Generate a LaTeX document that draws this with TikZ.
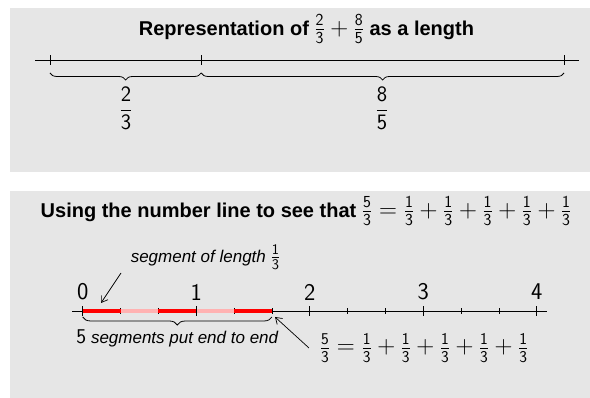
\documentclass[tikz,border=0pt]{standalone}
\usepackage{fontspec}
\setmainfont{Liberation Sans}
\usetikzlibrary{arrows.meta,decorations.pathreplacing}
\definecolor{panelgray}{RGB}{230,230,230}
\definecolor{segred}{RGB}{255,0,0}
\definecolor{segpink}{RGB}{255,178,178}
\newcommand{\numfrac}[2]{\frac{\mathsf{#1}}{\mathsf{#2}}}
\newcommand{\mathat}[2]{{\fontsize{#1}{#1}\selectfont$#2$}}
\newcommand{\bigtick}[2]{\draw[line width=0.8pt] (#1,#2-5) -- (#1,#2+5);}
\newcommand{\smalltick}[2]{\draw[line width=0.6pt] (#1,#2-3) -- (#1,#2+3);}
\newcommand{\segpiece}[3]{\draw[#3,line width=4.5pt] (#1,87) -- (#2,87);}
\tikzset{
  titletext/.style={font=\bfseries\fontsize{20}{24}\selectfont},
  notetext/.style={font=\fontsize{17}{20}\selectfont},
  numtext/.style={font=\fontsize{24}{28}\selectfont},
  bracebelow/.style={decorate,decoration={brace,mirror,amplitude=#1},line width=0.8pt},
  pointer/.style={-{Straight Barb[length=6pt,width=8pt]},line width=0.7pt}
}

\begin{document}
\begin{tikzpicture}[x=1pt,y=1pt]
\useasboundingbox (0,0) rectangle (590,398);
\fill[panelgray] (10,226) rectangle (590,390);
\fill[panelgray] (10,0) rectangle (590,207);
% top panel: 2/3 + 8/5 as a length
\node[titletext] (toptitle) at (306.5,369) {Representation of \mathat{24}{\numfrac{2}{3}+\numfrac{8}{5}} as a length};
\coordinate (a0) at (50,338);
\coordinate (a1) at (201.2,338);
\coordinate (a2) at (564,338);
\draw[line width=0.8pt] (35,338) -- (579,338);
\bigtick{50}{338}
\bigtick{201.2}{338}
\bigtick{564}{338}
\draw[bracebelow=7pt] (50,325) -- (201.2,325);
\draw[bracebelow=7pt] (201.2,325) -- (564,325);
\node[notetext] (twothirds) at (126,290) {\mathat{22}{\displaystyle\numfrac{2}{3}}};
\node[notetext] (eightfifths) at (382,290) {\mathat{22}{\displaystyle\numfrac{8}{5}}};
% bottom panel: 5/3 on the number line
\node[titletext] (bottitle) at (306,187) {Using the number line to see that \mathat{24}{\numfrac{5}{3}=\numfrac{1}{3}+\numfrac{1}{3}+\numfrac{1}{3}+\numfrac{1}{3}+\numfrac{1}{3}}};
\draw[line width=0.8pt] (72,87) -- (547,87);
\smalltick{120.5}{87}
\smalltick{158.4}{87}
\smalltick{234.0}{87}
\smalltick{271.9}{87}
\segpiece{82.7}{120.5}{segred}
\segpiece{120.5}{158.4}{segpink}
\segpiece{158.4}{196.2}{segred}
\segpiece{196.2}{234.0}{segpink}
\segpiece{234.0}{271.9}{segred}
\bigtick{82.7}{87}
\bigtick{196.2}{87}
\bigtick{309.7}{87}
\smalltick{347.5}{87}
\smalltick{385.4}{87}
\bigtick{423.2}{87}
\smalltick{461.0}{87}
\smalltick{498.9}{87}
\bigtick{536.7}{87}
\node[numtext] (n0) at (82.7,106) {$\mathsf{0}$};
\node[numtext] (n1) at (196.2,106) {$\mathsf{1}$};
\node[numtext] (n2) at (309.7,106) {$\mathsf{2}$};
\node[numtext] (n3) at (423.2,106) {$\mathsf{3}$};
\node[numtext] (n4) at (536.7,106) {$\mathsf{4}$};
\draw[bracebelow=8pt] (82.7,81) -- (271.9,81);
\node[notetext] (endtoend) at (177.5,60) {\mathat{21}{\mathsf{5}} \textit{segments put end to end}};
\node[notetext] (onethird) at (205.5,141) {\textit{segment of length} \mathat{21}{\numfrac{1}{3}}};
\node[notetext] (sumlabel) at (424,50) {\mathat{23.5}{\numfrac{5}{3}=\numfrac{1}{3}+\numfrac{1}{3}+\numfrac{1}{3}+\numfrac{1}{3}+\numfrac{1}{3}}};
\coordinate (pieceend) at (101,95);
\coordinate (pieceline) at (121,125);
\coordinate (sumend) at (275,81);
\coordinate (sumline) at (309,50);
\draw[pointer] (pieceline) -- (pieceend);
\draw[pointer] (sumline) -- (sumend);
\end{tikzpicture}
\end{document}
